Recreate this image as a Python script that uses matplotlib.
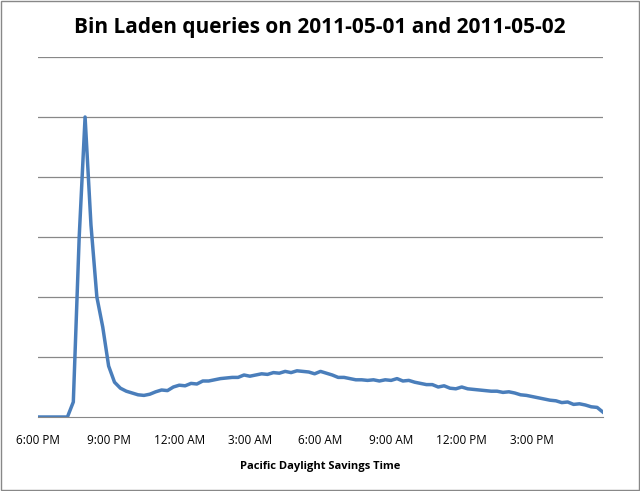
import matplotlib
matplotlib.use("Agg")
import matplotlib.pyplot as plt
import numpy as np
from matplotlib.patches import Rectangle

values = [0,0,0,0,0,0,0.25,3.0,5.0,3.2,2.0,1.5,0.85,0.58,0.48,0.43,0.4,0.37,0.36,0.38,
          0.42,0.45,0.44,0.5,0.53,0.52,0.56,0.55,0.6,0.6,0.62,0.64,0.65,0.66,0.66,0.7,
          0.68,0.7,0.72,0.71,0.74,0.73,0.76,0.74,0.77,0.76,0.75,0.72,0.76,0.73,0.7,0.66,
          0.66,0.64,0.62,0.62,0.61,0.62,0.6,0.62,0.61,0.64,0.6,0.61,0.58,0.56,0.54,0.54,
          0.5,0.52,0.48,0.47,0.5,0.47,0.46,0.45,0.44,0.43,0.43,0.41,0.42,0.4,0.37,0.36,
          0.34,0.32,0.3,0.28,0.27,0.24,0.25,0.21,0.22,0.2,0.17,0.16,0.08]
hours = np.arange(len(values)) * 0.25
tick_hours = [0, 3, 6, 9, 12, 15, 18, 21]
tick_labels = ["6:00 PM", "9:00 PM", "12:00 AM", "3:00 AM", "6:00 AM", "9:00 AM", "12:00 PM", "3:00 PM"]

plt.rcParams['font.family'] = ['Open Sans', 'DejaVu Sans']
fig = plt.figure(figsize=(6.4, 4.91), dpi=100)
fig.patches.append(Rectangle((0.002, 0.002), 0.996, 0.996, transform=fig.transFigure,
                             fill=False, edgecolor='#888888', linewidth=1))
ax = fig.add_axes([38/640, 1-417/491, 565/640, 360/491])
ax.plot(hours, values, color='#4a7ebb', linewidth=2.5, solid_joinstyle='round')
ax.set_xlim(0, 24)
ax.set_ylim(0, 6)
ax.set_yticks(np.arange(1, 7))
ax.yaxis.grid(True, color='#888888', linewidth=0.9)
ax.tick_params(axis='y', left=False, labelleft=False)
ax.set_xticks(tick_hours)
ax.set_xticklabels(tick_labels, fontsize=8.5)
ax.tick_params(axis='x', length=0, pad=12)
for s in ['top', 'right', 'left']:
    ax.spines[s].set_visible(False)
ax.spines['bottom'].set_color('#888888')
ax.set_axisbelow(True)
ax.set_xlabel("Pacific Daylight Savings Time", fontsize=8, fontweight='bold', labelpad=10)
fig.text(0.5, 1-28/491, "Bin Laden queries on 2011-05-01 and 2011-05-02",
         ha='center', va='center', fontsize=15, fontweight='bold')
fig.savefig("out.png", dpi=100)
